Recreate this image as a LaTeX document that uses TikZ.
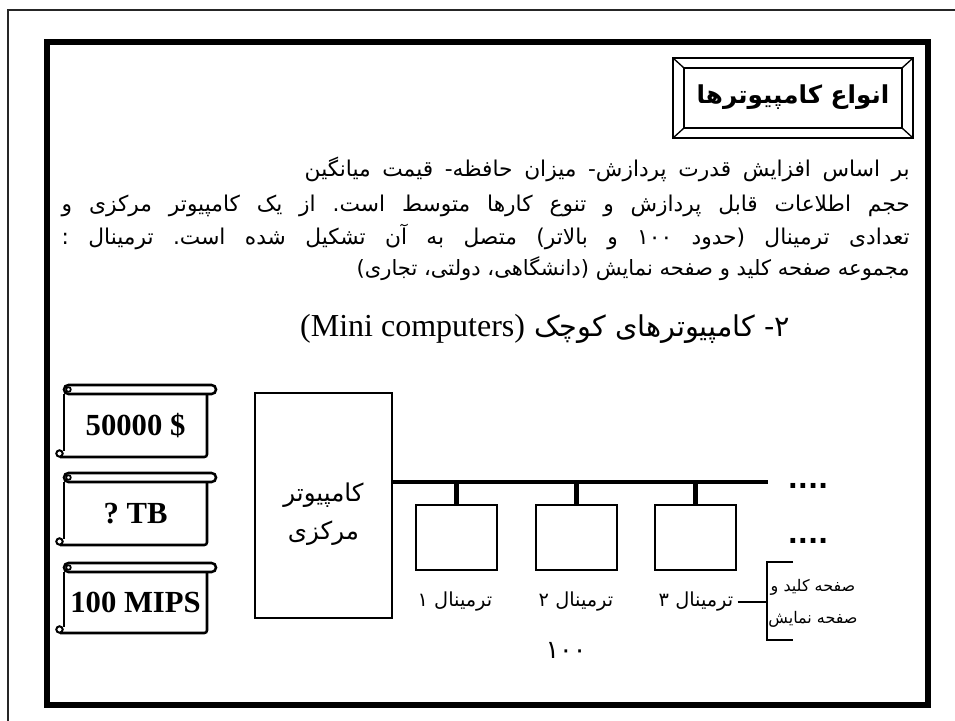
\documentclass[tikz,border=0pt]{standalone}
\usepackage{fontspec}
\TeXXeTstate=1
\newfontfamily\fa[Script=Arabic]{DejaVu Sans}
\newfontfamily\lat{Liberation Serif}
\frenchspacing
\tikzset{
  thin frame/.style={draw=black!85, line width=1.1pt},
  thick frame/.style={draw, line width=4.5pt},
  bevel/.style={draw, line width=1pt},
  scrl/.style={draw, line width=1.9pt},
  scrtxt/.style={font=\lat\bfseries\fontsize{23}{25}\selectfont, inner sep=0pt},
  faline/.style={font=\fa\fontsize{16.3}{18}\selectfont, inner sep=0pt, anchor=base east},
  boxline/.style={draw, line width=2.2pt},
  bus/.style={draw, line width=3.4pt},
  term/.style={boxline, minimum width=60.75pt, minimum height=48.75pt, inner sep=0pt},
  small/.style={font=\fa\fontsize{14.5}{16}\selectfont, inner sep=0pt},
  kbtext/.style={font=\fa\fontsize{12}{14}\selectfont, inner sep=0pt},
  dots/.style={font=\fontspec{DejaVu Sans Bold}\fontsize{20}{22}\selectfont, inner sep=0pt},
  bracket/.style={draw, line width=0.8pt},
  cctext/.style={font=\fa\fontsize{18.4}{29}\selectfont, align=center, inner sep=0pt, yshift=-6.5pt}
}
\newcommand\scrollbox[4]{%
  \draw[scrl, rounded corners=3.3pt] (64,#2) rectangle (216,{#2+9});
  \draw[scrl, line width=1.3pt] (68.5,{#2+4.5}) circle (2.3);
  \draw[scrl] (64,{#2+9}) -- (64,{#3-6});
  \draw[scrl, rounded corners=2pt] (207,{#2+9}) -- (207,#3) -- (60,#3);
  \draw[scrl, line width=1.5pt] (59.5,{#3-3.5}) circle (3.2);
  \node[scrtxt] (#1) at (135.5,{(#2+9+#3)/2}) {#4};
}
\begin{document}
\begin{tikzpicture}[x=0.75pt, y=-0.75pt]
\useasboundingbox (0,0) rectangle (955,720);
% outer thin frame (continues beyond the page)
\coordinate (of0) at (8,10);
\coordinate (of1) at (960,10);
\coordinate (of2) at (8,725);
\draw[thin frame] (of1) -- (of0) -- (of2);
% inner thick frame
\draw[thick frame] (47,42) rectangle (928,705);
% title bevel box
\coordinate (bo1) at (673,58); \coordinate (bo2) at (913,58);
\coordinate (bo3) at (913,138); \coordinate (bo4) at (673,138);
\coordinate (bi1) at (684,68); \coordinate (bi2) at (902,68);
\coordinate (bi3) at (902,128); \coordinate (bi4) at (684,128);
\draw[bevel] (bo1) -- (bo2) -- (bo3) -- (bo4) -- cycle;
\draw[bevel] (bi1) -- (bi2) -- (bi3) -- (bi4) -- cycle;
\draw[bevel] (bo1) -- (bi1) (bo2) -- (bi2) (bo3) -- (bi3) (bo4) -- (bi4);
\node[font=\fa\bfseries\fontsize{18.5}{22}\selectfont, inner sep=0pt] (title) at (793,97) {\beginR انواع کامپیوترها\endR};
% paragraph
\node[faline] (p1) at (910,177) {\hbox to 453.75pt{\beginR بر اساس افزایش قدرت پردازش- میزان حافظه- قیمت میانگین\endR}};
\node[faline] (p2) at (910,211) {\hbox to 636pt{\beginR حجم اطلاعات قابل پردازش و تنوع کارها متوسط است. از یک کامپیوتر مرکزی و\endR}};
\node[faline] (p3) at (910,244) {\hbox to 636pt{\beginR تعدادی ترمینال (حدود ۱۰۰ و بالاتر) متصل به آن تشکیل شده است. ترمینال :\endR}};
\node[faline, font=\fa\fontsize{15.8}{18}\selectfont] (p4) at (910,275) {\beginR مجموعه صفحه کلید و صفحه نمایش (دانشگاهی، دولتی، تجاری)\endR};
% heading
\node[font=\fa\fontsize{21.5}{28}\selectfont, inner sep=0pt, anchor=base] (head) at (545,336) {\beginR ۲- کامپیوترهای کوچک {\lat\fontsize{24}{28}\selectfont)\beginL Mini computers\endL(}\endR};
% scrolls
\scrollbox{s1}{385}{457}{50000 \$}
\scrollbox{s2}{473}{545}{? TB}
\scrollbox{s3}{563}{633}{100 MIPS}
% central computer
\node[boxline, minimum width=102.75pt, minimum height=168.75pt, inner sep=0pt,
      label={[cctext]center:\beginR کامپیوتر\endR\\\beginR مرکزی\endR}] (cc) at (323.5,505.5) {};
% terminals
\node[term] (t1) at (456.5,537.5) {};
\node[term] (t2) at (576.5,537.5) {};
\node[term] (t3) at (695.5,537.5) {};
\coordinate (busend) at (768,482);
\draw[bus] (cc.east |- busend) -- (busend);
\draw[bus] (t1.north) -- (t1.north |- busend);
\draw[bus] (t2.north) -- (t2.north |- busend);
\draw[bus] (t3.north) -- (t3.north |- busend);
% labels
\node[small] (l1) at (455,602) {\beginR ترمینال ۱\endR};
\node[small] (l2) at (576,602) {\beginR ترمینال ۲\endR};
\node[small] (l3) at (696,602) {\beginR ترمینال ۳\endR};
% dots
\node[dots] (d1) at (808,486) {....};
\node[dots] (d2) at (808,541) {....};
% bracket
\coordinate (bk) at (767,602);
\coordinate (bkt) at (767,562); \coordinate (bkb) at (767,640);
\coordinate (bkt2) at (793,562); \coordinate (bkb2) at (793,640);
\draw[bracket] (l3.east) ++(4,0) -- (bk);
\draw[bracket] (bkt2) -- (bkt) -- (bkb) -- (bkb2);
\node[kbtext] (kb1) at (813,587) {\beginR صفحه کلید و\endR};
\node[kbtext] (kb2) at (813,619) {\beginR صفحه نمایش\endR};
\node[font=\fa\fontsize{19}{21}\selectfont, inner sep=0pt] (n100) at (566,650) {\beginR ۱۰۰\endR};
\end{tikzpicture}
\end{document}
